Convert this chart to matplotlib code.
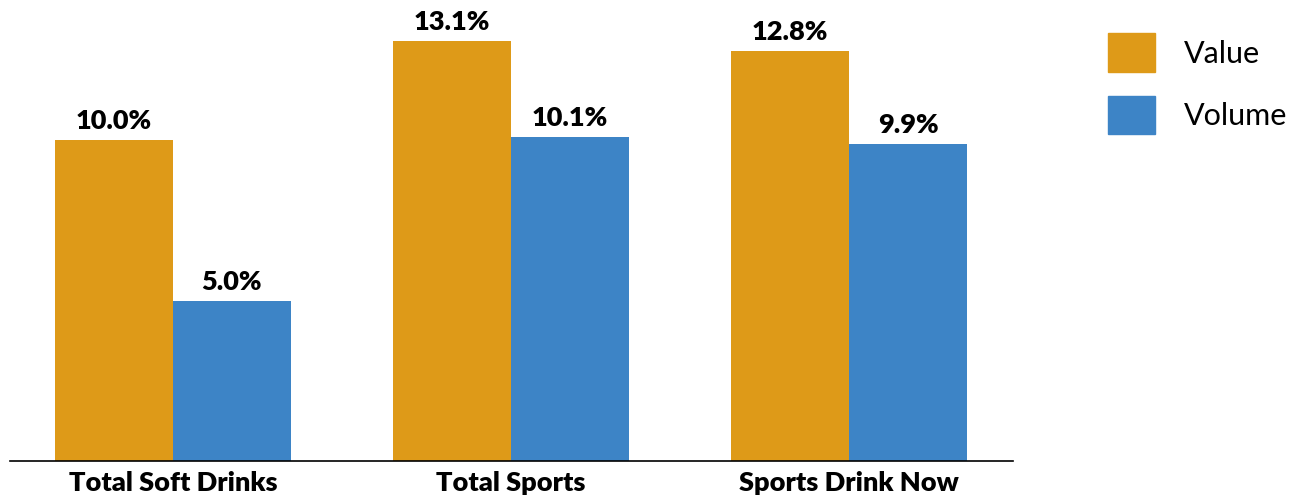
import numpy as np
import matplotlib.pyplot as plt
from matplotlib.patches import Patch

categories = ["Total Soft Drinks", "Total Sports", "Sports Drink Now"]
value_pct = [10.0, 13.1, 12.8]
volume_pct = [5.0, 10.1, 9.9]

VALUE_COLOR = "#DE9A18"
VOLUME_COLOR = "#3D84C6"

plt.rcParams['font.family'] = ['Lato', 'DejaVu Sans']

fig = plt.figure(figsize=(13, 4.97), dpi=100)
ax = fig.add_axes([10 / 1300, 1 - 461 / 497, 1003 / 1300, 461 / 497])

x = np.arange(len(categories))
w = 0.349
b1 = ax.bar(x - w / 2, value_pct, w, color=VALUE_COLOR)
b2 = ax.bar(x + w / 2, volume_pct, w, color=VOLUME_COLOR)

for bars, vals in ((b1, value_pct), (b2, volume_pct)):
    for rect, v in zip(bars, vals):
        ax.annotate(f"{v:.1f}%", (rect.get_x() + rect.get_width() / 2, v),
                    xytext=(0, 5), textcoords="offset points",
                    ha="center", va="bottom", fontsize=19.5, fontweight="heavy")

ax.set_xlim(-0.482, 2.485)
ax.set_ylim(0, 14.38)
ax.set_xticks(x)
ax.set_xticklabels(categories, fontsize=19.5, fontweight="heavy")
ax.tick_params(axis="x", length=0, pad=7)
ax.set_yticks([])
for s in ("top", "right", "left"):
    ax.spines[s].set_visible(False)
ax.spines["bottom"].set_linewidth(1.2)

handles = [Patch(color=VALUE_COLOR, label="Value"),
           Patch(color=VOLUME_COLOR, label="Volume")]
fig.legend(handles=handles, loc="upper left", bbox_to_anchor=(1080 / 1300, 1 - 6 / 497),
           frameon=False, fontsize=22, handlelength=1.55, handleheight=1.55,
           handletextpad=0.95, labelspacing=0.8)

fig.savefig("out.png", dpi=100)
